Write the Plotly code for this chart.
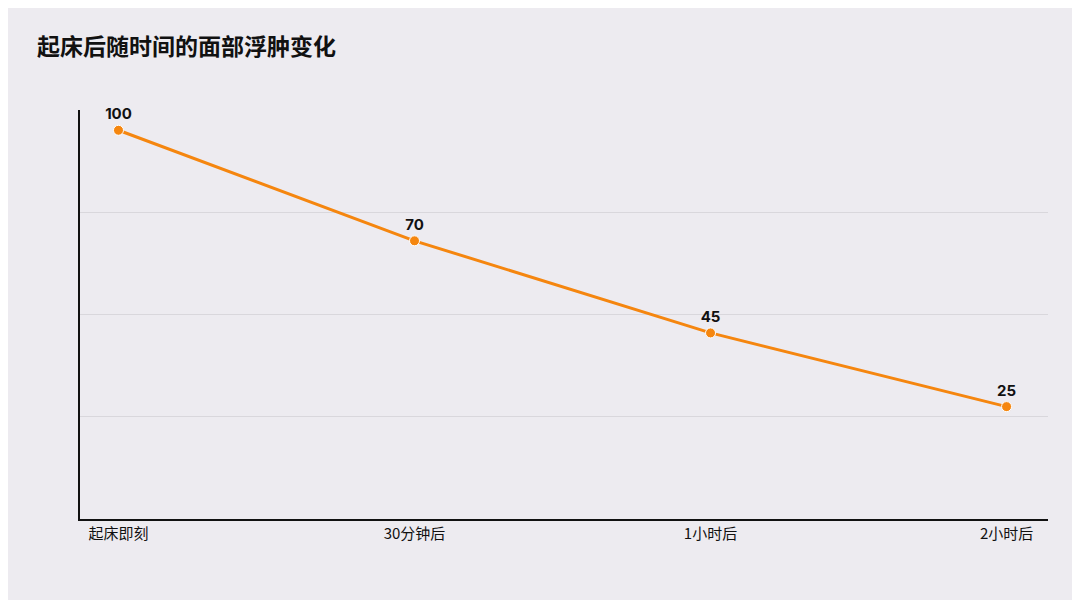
import plotly.graph_objects as go

categories = ["起床即刻", "30分钟后", "1小时后", "2小时后"]
values = [100, 70, 45, 25]
title = "起床后随时间的面部浮肿变化"

ymin, ymax = -5.5, 105.5
grid = [ymin + (ymax - ymin) * f for f in (0.25, 0.5, 0.75, 0.999)]

fig = go.Figure(go.Scatter(
    x=categories, y=values, mode="lines+markers+text",
    line=dict(color="#f5860f", width=3),
    marker=dict(color="#f5860f", size=10, line=dict(color="#ffffff", width=1)),
    text=["<b>" + str(v) + "</b>" for v in values], textposition="top center",
    textfont=dict(size=15, color="#111111", family="Inter, Noto Sans CJK SC"),
    cliponaxis=False, hoverinfo="skip"))

fig.update_layout(
    width=1080, height=600,
    paper_bgcolor="#edebf0", plot_bgcolor="#edebf0",
    margin=dict(l=72, r=40, t=102, b=89),
    showlegend=False,
    font=dict(family="Noto Sans CJK SC, Inter", color="#111111"),
    title=dict(text="<b>" + title + "</b>", x=29/1080, xanchor="left",
               y=1 - 39/600, yanchor="middle", font=dict(size=23, color="#111111")),
    xaxis=dict(range=[-0.13, 3.14], showgrid=False, showline=True, linecolor="#111111",
               linewidth=2, ticks="", tickfont=dict(size=15, color="#111111"), fixedrange=True),
    yaxis=dict(range=[ymin, ymax], tickvals=grid, showticklabels=False, showgrid=True,
               gridcolor="#d9d7dc", gridwidth=1, showline=True, linecolor="#111111",
               linewidth=2, zeroline=False, ticks="", fixedrange=True),
)
fig.write_html("out.html")
